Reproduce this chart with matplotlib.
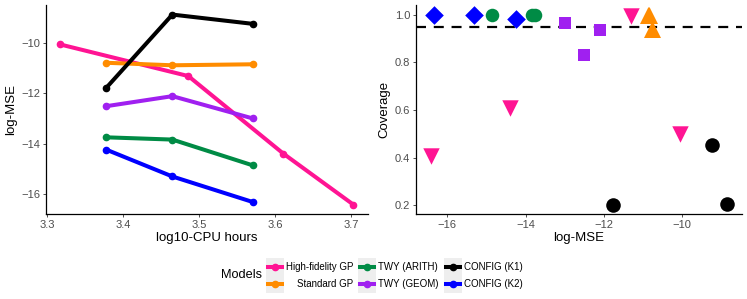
import numpy as np
import matplotlib
matplotlib.use("Agg")
import matplotlib.pyplot as plt
from matplotlib.lines import Line2D
from matplotlib.patches import Rectangle

plt.rcParams['font.family'] = ['Liberation Sans', 'DejaVu Sans']

# data per model: CPU hours (log10), log-MSE, coverage
models = ["High-fidelity GP", "Standard GP", "TWY (ARITH)",
          "TWY (GEOM)", "CONFIG (K1)", "CONFIG (K2)"]
colours = ["#FF1493", "#FF8C00", "#008B45", "#A020F0", "#000000", "#0000FF"]
shapes = ["v", "^", "o", "s", "o", "D"]
sizes = [140, 150, 95, 70, 110, 90]

cpu_hf = [3.3175, 3.486, 3.611, 3.703]
mse_hf = [-10.05, -11.31, -14.40, -16.43]
cov_hf = [0.497, 0.993, 0.608, 0.405]

cpu_std = [3.378, 3.465, 3.571]
mse_std = [-10.78, -10.88, -10.84]
cov_std = [0.94, 1.0, 1.0]

cpu_arith = [3.378, 3.465, 3.571]
mse_arith = [-13.75, -13.84, -14.87]
cov_arith = [1.0, 1.0, 1.0]

cpu_geom = [3.378, 3.465, 3.571]
mse_geom = [-12.51, -12.11, -13.00]
cov_geom = [0.832, 0.937, 0.965]

cpu_k1 = [3.378, 3.465, 3.571]
mse_k1 = [-11.78, -8.86, -9.23]
cov_k1 = [0.203, 0.207, 0.455]

cpu_k2 = [3.378, 3.465, 3.571]
mse_k2 = [-14.24, -15.31, -16.33]
cov_k2 = [0.983, 1.0, 1.0]

cpu = [cpu_hf, cpu_std, cpu_arith, cpu_geom, cpu_k1, cpu_k2]
mse = [mse_hf, mse_std, mse_arith, mse_geom, mse_k1, mse_k2]
cov = [cov_hf, cov_std, cov_arith, cov_geom, cov_k1, cov_k2]
target = 0.95

tick_col = "#4D4D4D"
fig = plt.figure(figsize=(7.47, 2.99), dpi=100)
ax1 = fig.add_axes([0.061, 0.284, 0.4316, 0.699])
ax2 = fig.add_axes([0.5565, 0.284, 0.4365, 0.699])

for i in range(len(models)):
    ax1.plot(cpu[i], mse[i], color=colours[i], lw=2.9, marker="o", ms=4.5,
             solid_capstyle="butt")
    ax2.scatter(mse[i], cov[i], color=colours[i], marker=shapes[i],
                s=sizes[i], linewidths=0, zorder=3)

ax2.axhline(target, color="black", lw=1.6, ls=(0, (4.5, 3.5)), zorder=2)


def lims(vals):
    allv = np.concatenate([np.asarray(v) for v in vals])
    lo, hi = allv.min(), allv.max()
    pad = 0.05 * (hi - lo)
    return lo - pad, hi + pad


ax1.set_xlim(*lims(cpu))
ax1.set_ylim(*lims(mse))
ax2.set_xlim(*lims(mse))
ax2.set_ylim(*lims(cov))

ax1.set_xticks([3.3, 3.4, 3.5, 3.6, 3.7])
ax1.set_yticks([-16, -14, -12, -10])
ax2.set_xticks([-16, -14, -12, -10])
ax2.set_yticks([0.2, 0.4, 0.6, 0.8, 1.0])
ax2.set_yticklabels(["0.2", "0.4", "0.6", "0.8", "1.0"])

ax1.set_xlabel("log10-CPU hours", fontsize=9.5, labelpad=2)
ax1.set_ylabel("log-MSE", fontsize=9.5, labelpad=3)
ax2.set_xlabel("log-MSE", fontsize=9.5, labelpad=2)
ax2.set_ylabel("Coverage", fontsize=9.5, labelpad=3)

for ax in (ax1, ax2):
    for s in ("top", "right"):
        ax.spines[s].set_visible(False)
    for s in ("left", "bottom"):
        ax.spines[s].set_linewidth(0.9)
    ax.tick_params(length=2.5, width=0.6, color="#333333", labelsize=8,
                   labelcolor=tick_col, pad=1.5)

# legend at the bottom, labels right aligned like the original
lax = fig.add_axes([0, 0, 1, 0.16])
lax.set_xlim(0, 747)
lax.set_ylim(299, 299 - 0.16 * 299)
lax.axis("off")
lax.text(241, 275, "Models", fontsize=9.2, ha="center", va="center")
key_x = [267, 359, 445]
lab_end = [353, 438, 523]
rows = [266.5, 284.0]
for i, name in enumerate(models):
    c, r = divmod(i, 2)
    x0 = key_x[c]
    lax.add_patch(Rectangle((x0 - 1, rows[r] - 8.7), 18, 17.4,
                            facecolor="#EEEEEE", lw=0, zorder=1))
    lax.add_line(Line2D([x0 + 1, x0 + 15], [rows[r], rows[r]],
                        color=colours[i], lw=2.9, zorder=2))
    lax.plot([x0 + 8], [rows[r]], marker="o", ms=4.5, color=colours[i], zorder=3)
    lax.text(lab_end[c], rows[r], name, fontsize=7.0, ha="right",
             va="center")

fig.savefig("out.png", dpi=100)
